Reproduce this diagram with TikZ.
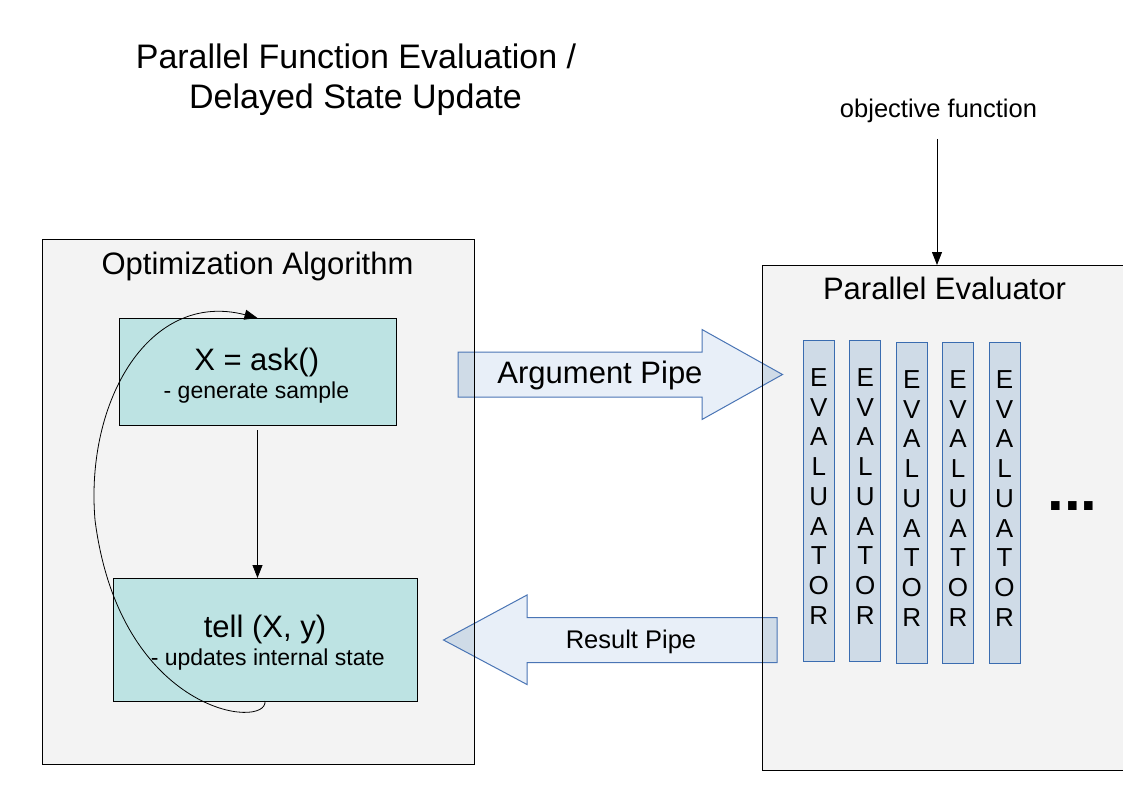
\documentclass[tikz,border=0pt]{standalone}
\usepackage{fontspec}
\setmainfont{Liberation Sans}
\usetikzlibrary{arrows.meta,positioning}

\definecolor{boxgray}{HTML}{F3F3F3}
\definecolor{tealfill}{HTML}{BDE3E3}
\definecolor{pipefill}{HTML}{E8EFF8}
\definecolor{pipedark}{HTML}{CFDBE7}
\definecolor{pipeline}{HTML}{4A75B5}
\definecolor{evalline}{HTML}{3A6CB0}

\tikzset{
  container/.style={draw=black, fill=boxgray, line width=1pt, outer sep=0pt, inner sep=0pt},
  stepbox/.style={draw=black, fill=tealfill, line width=1pt, outer sep=0pt, inner sep=0pt},
  evalbar/.style={draw=evalline, fill=pipedark, line width=1pt, minimum width=31pt, minimum height=321pt, inner sep=0pt},
  evaltext/.style={align=center, font=\fontsize{26}{29.75}\selectfont, inner sep=0pt},
  pipe/.style={draw=pipeline, line width=1pt},
  tip/.style={line width=0.8pt, -{Triangle[length=13pt,width=10pt]}},
  bigtext/.style={font=\fontsize{31}{37}\selectfont, anchor=base, inner sep=0pt},
  smalltext/.style={font=\fontsize{23}{28}\selectfont, anchor=base, inner sep=0pt},
  midtext/.style={font=\fontsize{25.5}{30}\selectfont, anchor=base, inner sep=0pt},
  titletext/.style={font=\fontsize{34}{40}\selectfont, anchor=base, inner sep=0pt},
  argshape/.style={insert path={(458,352) -- (702,352) -- (702,329.5) -- (782.5,374.5)
      -- (702,419.5) -- (702,397) -- (458,397) -- cycle}},
  resshape/.style={insert path={(777,617.5) -- (527,617.5) -- (527,595) -- (443.5,640)
      -- (527,684.5) -- (527,662.5) -- (777,662.5) -- cycle}}
}

\begin{document}
\begin{tikzpicture}[x=1pt, y=-1pt]
  \useasboundingbox (0,0) rectangle (1123,794);
  \fill[white] (0,0) rectangle (1123,794);

  % title
  \node[titletext] (title1) at (356,69) {Parallel Function Evaluation /};
  \node[titletext] (title2) at (355.5,109) {Delayed State Update};

  % containers
  \node[container, anchor=north west, minimum width=432pt, minimum height=525pt] (optalg) at (42,239) {};
  \node[container, anchor=north west, minimum width=372pt, minimum height=505pt] (pareval) at (762.5,265) {};
  \node[bigtext] (optlabel) at (257.5,274) {Optimization Algorithm};
  \node[bigtext] (evallabel) at (944.5,299) {Parallel Evaluator};

  % pipes
  \fill[pipefill, argshape];
  \fill[pipefill, resshape];
  \begin{scope}
    \clip (optalg.north west) rectangle (optalg.south east);
    \fill[pipedark, argshape];
    \fill[pipedark, resshape];
  \end{scope}
  \begin{scope}
    \clip (pareval.north west) rectangle (pareval.south east);
    \fill[pipedark, argshape];
    \fill[pipedark, resshape];
  \end{scope}
  \draw[pipe, argshape];
  \draw[pipe, resshape];
  \draw[line width=1pt] (optalg.north west) rectangle (optalg.south east);
  \draw[line width=1pt] (pareval.north west) rectangle (pareval.south east);
  \node[bigtext] (argtext) at (600,383) {Argument Pipe};
  \node[midtext] (restext) at (631,648) {Result Pipe};

  % ask / tell
  \node[stepbox, anchor=north west, minimum width=277pt, minimum height=107pt] (askbox) at (119,318) {};
  \node[stepbox, anchor=north west, minimum width=304pt, minimum height=123pt] (tellbox) at (113,578) {};
  \node[bigtext] (asktext) at (256.7,370) {X = ask()};
  \node[smalltext] (asknote) at (256.4,398) {- generate sample};
  \node[bigtext] (telltext) at (265,637) {tell (X, y)};
  \node[smalltext] (tellnote) at (267.8,665) {- updates internal state};

  \draw[tip] ([yshift=-5pt]askbox.south) -- (askbox.south |- tellbox.north);
  \draw[tip] (tellbox.south) .. controls (268,730) and (120,715) .. (95,520)
    .. controls (85,400) and (150,290) .. (askbox.north);

  % evaluators
  \foreach \x/\y [count=\i] in {818.8/500.5, 865.3/500.5, 911.8/502.5, 958/502.5, 1004.5/502.5} {
    \node[evalbar] (ev\i) at (\x,\y) {};
    \node[evaltext, yshift=4pt] (evt\i) at (ev\i.center) {E\\V\\A\\L\\U\\A\\T\\O\\R};
  }
  \node[font=\fontsize{60}{60}\selectfont\bfseries, anchor=base, inner sep=0pt] (dots) at (1072.5,510) {...};

  % objective function
  \node[midtext] (objtext) at (938.5,118) {objective function};
  \coordinate (objstart) at (937,139);
  \draw[tip] (objstart) -- (objstart |- pareval.north);
\end{tikzpicture}
\end{document}
